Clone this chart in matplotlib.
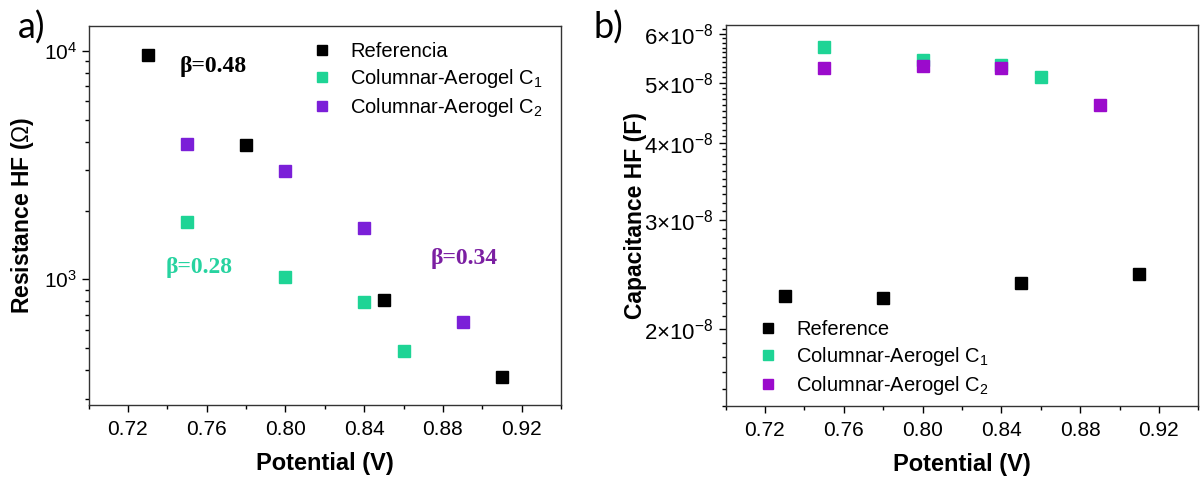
import matplotlib
matplotlib.use("Agg")
import matplotlib.pyplot as plt
import numpy as np
from matplotlib.ticker import FixedLocator, FixedFormatter, NullFormatter, MultipleLocator

plt.rcParams['font.family'] = ['Liberation Sans', 'DejaVu Sans']
plt.rcParams['mathtext.fontset'] = 'custom'
plt.rcParams['mathtext.rm'] = 'Liberation Sans'
plt.rcParams['mathtext.it'] = 'Liberation Sans'
plt.rcParams['mathtext.bf'] = 'Liberation Sans:bold'

# Panel a) Resistance HF
ref_x_a = [0.73, 0.78, 0.85, 0.91]
ref_r = [9600, 3850, 810, 373]
c1_x_a = [0.75, 0.80, 0.84, 0.86]
c1_r = [1790, 1020, 792, 488]
c2_x_a = [0.75, 0.80, 0.84, 0.89]
c2_r = [3920, 2965, 1675, 649]

# Panel b) Capacitance HF
ref_x_b = [0.73, 0.78, 0.85, 0.91]
ref_c = [2.26e-8, 2.24e-8, 2.37e-8, 2.45e-8]
c1_x_b = [0.75, 0.80, 0.84, 0.86]
c1_c = [5.71e-8, 5.45e-8, 5.35e-8, 5.10e-8]
c2_x_b = [0.75, 0.80, 0.84, 0.89]
c2_c = [5.28e-8, 5.32e-8, 5.28e-8, 4.60e-8]

xticks = [0.72, 0.76, 0.80, 0.84, 0.88, 0.92]
xtick_labels = ["0.72", "0.76", "0.80", "0.84", "0.88", "0.92"]
cap_ticks = [2e-8, 3e-8, 4e-8, 5e-8, 6e-8]
cap_labels = [r"$2{\times}10^{-8}$", r"$3{\times}10^{-8}$", r"$4{\times}10^{-8}$",
              r"$5{\times}10^{-8}$", r"$6{\times}10^{-8}$"]

green = "#1ed495"
purple_a = "#7b1fd8"
purple_b = "#9b0bcc"

fig = plt.figure(figsize=(12, 4.83), dpi=100)
ax1 = fig.add_axes([0.0738, 0.1615, 0.3937, 0.7847])
ax2 = fig.add_axes([0.6046, 0.1594, 0.3940, 0.7888])


def style_x(ax):
    ax.set_xlim(0.70, 0.94)
    ax.xaxis.set_major_locator(FixedLocator(xticks))
    ax.xaxis.set_major_formatter(FixedFormatter(xtick_labels))
    ax.xaxis.set_minor_locator(MultipleLocator(0.02))
    ax.tick_params(axis='x', which='major', length=5, width=1, labelsize=15, pad=6)
    ax.tick_params(axis='x', which='minor', length=3, width=1)
    ax.tick_params(axis='y', which='major', length=5, width=1, labelsize=15)
    ax.tick_params(axis='y', which='minor', length=3, width=1)
    ax.set_xlabel("Potential (V)", fontsize=17, fontweight='bold', labelpad=9)
    for s in ax.spines.values():
        s.set_linewidth(1.0)
        s.set_color("#333333")


# ---- a) ----
ms = 9
ax1.plot(ref_x_a, ref_r, 's', color='black', ms=ms, label="Referencia")
ax1.plot(c1_x_a, c1_r, 's', color=green, ms=ms, label=r"Columnar-Aerogel C$_1$")
ax1.plot(c2_x_a, c2_r, 's', color=purple_a, ms=ms, label=r"Columnar-Aerogel C$_2$")
ax1.set_yscale('log')
ax1.set_ylim(282, 12830)
ax1.yaxis.set_minor_formatter(NullFormatter())
style_x(ax1)
ax1.set_ylabel(r"Resistance HF ($\Omega$)", fontsize=16.5, fontweight='bold', va='center')
ax1.yaxis.set_label_coords(-0.1397, 0.5)
ax1.legend(loc='upper left', bbox_to_anchor=(0.435, 1.005), frameon=False, fontsize=14.5,
           markerscale=0.8, handlelength=1.0, handletextpad=0.9, labelspacing=0.3)

serif = ['Liberation Serif', 'DejaVu Serif']
ax1.text(0.7635, 8570, "β=0.48", family=serif, fontsize=17, fontweight='bold',
         color='black', ha='center', va='center')
ax1.text(0.756, 1132, "β=0.28", family=serif, fontsize=17, fontweight='bold',
         color="#27d3a0", ha='center', va='center')
ax1.text(0.891, 1228, "β=0.34", family=serif, fontsize=17, fontweight='bold',
         color="#7b1fa2", ha='center', va='center')

# ---- b) ----
ax2.plot(ref_x_b, ref_c, 's', color='black', ms=ms, label="Reference")
ax2.plot(c1_x_b, c1_c, 's', color=green, ms=ms, label=r"Columnar-Aerogel C$_1$")
ax2.plot(c2_x_b, c2_c, 's', color=purple_b, ms=ms, label=r"Columnar-Aerogel C$_2$")
ax2.set_yscale('log')
ax2.set_ylim(1.5e-8, 6.2e-8)
ax2.yaxis.set_major_locator(FixedLocator(cap_ticks))
ax2.yaxis.set_major_formatter(FixedFormatter(cap_labels))
ax2.yaxis.set_minor_locator(FixedLocator(np.arange(15, 62) * 1e-9))
ax2.yaxis.set_minor_formatter(NullFormatter())
style_x(ax2)
ax2.tick_params(axis='y', which='major', labelsize=16)
ax2.set_ylabel("Capacitance HF (F)", fontsize=16.5, fontweight='bold', va='center')
ax2.yaxis.set_label_coords(-0.1913, 0.5)
ax2.legend(loc='lower left', bbox_to_anchor=(0.03, -0.025), frameon=False, fontsize=14.5,
           markerscale=0.8, handlelength=1.0, handletextpad=0.9, labelspacing=0.3)

fig.text(0.015, 0.921, "a)", fontsize=26, family=['Lato', 'DejaVu Sans'], va='baseline')
fig.text(0.495, 0.921, "b)", fontsize=26, family=['Lato', 'DejaVu Sans'], va='baseline')

fig.savefig("out.png", dpi=100)
